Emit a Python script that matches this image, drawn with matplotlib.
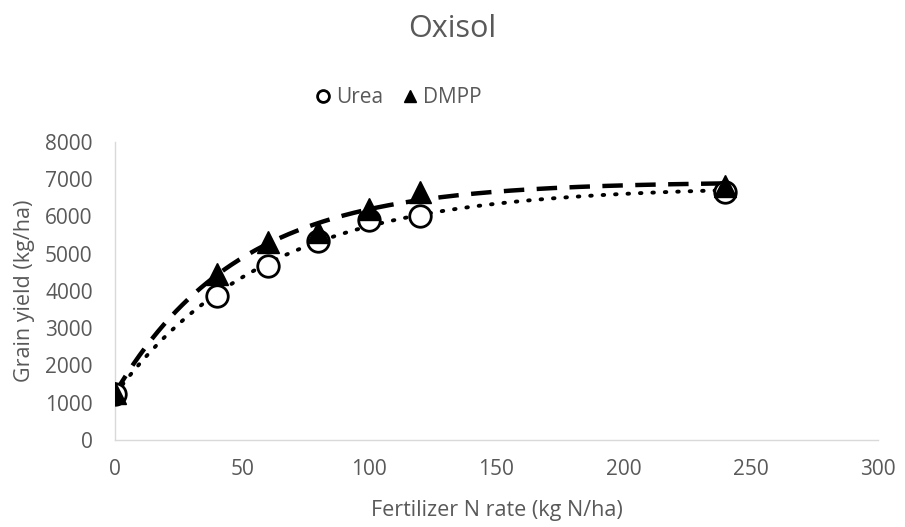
import numpy as np
import matplotlib
matplotlib.use("Agg")
import matplotlib.pyplot as plt

plt.rcParams['font.family'] = ['Open Sans', 'DejaVu Sans']

n_rate = [0, 40, 60, 80, 100, 120, 240]
urea = [1240, 3870, 4670, 5330, 5900, 6000, 6660]
dmpp = [1250, 4450, 5320, 5590, 6200, 6640, 6820]

grey = '#595959'


def fit_curve(x, y):
    # y = a - b*exp(-c*x), least squares with a grid over c
    x = np.asarray(x, float)
    y = np.asarray(y, float)
    best = None
    for c in np.linspace(0.002, 0.08, 800):
        A = np.column_stack([np.ones_like(x), -np.exp(-c * x)])
        coef, res, _, _ = np.linalg.lstsq(A, y, rcond=None)
        err = np.sum((A @ coef - y) ** 2)
        if best is None or err < best[0]:
            best = (err, coef[0], coef[1], c)
    _, a, b, c = best
    return lambda t: a - b * np.exp(-c * t)


fig = plt.figure(figsize=(9.05, 5.27), dpi=100)
ax = fig.add_axes([0.127, 0.165, 0.843, 0.566])

xs = np.linspace(0, 240, 300)
fu = fit_curve(n_rate, urea)
fd = fit_curve(n_rate, dmpp)
ax.plot(xs, fu(xs), color='black', lw=2.8, linestyle=(0, (0.4, 2.8)),
        dash_capstyle='round', zorder=2)
ax.plot(xs, fd(xs), color='black', lw=3.2, linestyle=(0, (4.6, 2.8)),
        zorder=2)

ax.plot(n_rate, urea, 'o', ms=15.5, mfc='white', mec='black', mew=2, ls='none',
        label='Urea', zorder=3)
ax.plot(n_rate, dmpp, '^', ms=16, mfc='black', mec='black', ls='none',
        label='DMPP', zorder=4)

ax.set_xlim(0, 300)
ax.set_ylim(0, 8000)
ax.set_xticks(range(0, 301, 50))
ax.set_yticks(range(0, 8001, 1000))
ax.tick_params(length=0, labelsize=15, colors=grey)
ax.tick_params(axis='x', pad=14)
ax.tick_params(axis='y', pad=16)
for s in ['top', 'right']:
    ax.spines[s].set_visible(False)
for s in ['left', 'bottom']:
    ax.spines[s].set_color('#d9d9d9')
    ax.spines[s].set_linewidth(1)

ax.set_xlabel('Fertilizer N rate (kg N/ha)', fontsize=15.5, color=grey, labelpad=14)
ax.set_ylabel('Grain yield (kg/ha)', fontsize=15.5, color=grey, labelpad=7)

fig.text(0.5, 0.945, 'Oxisol', ha='center', va='center', fontsize=22, color=grey)

leg = fig.legend(handles=ax.get_lines()[2:], loc='center', bbox_to_anchor=(0.441, 0.815),
                 ncol=2, frameon=False, fontsize=15, handlelength=0.6,
                 handletextpad=0.3, columnspacing=1.0, markerscale=0.55)
for t in leg.get_texts():
    t.set_color(grey)

fig.savefig('out.png', dpi=100)
